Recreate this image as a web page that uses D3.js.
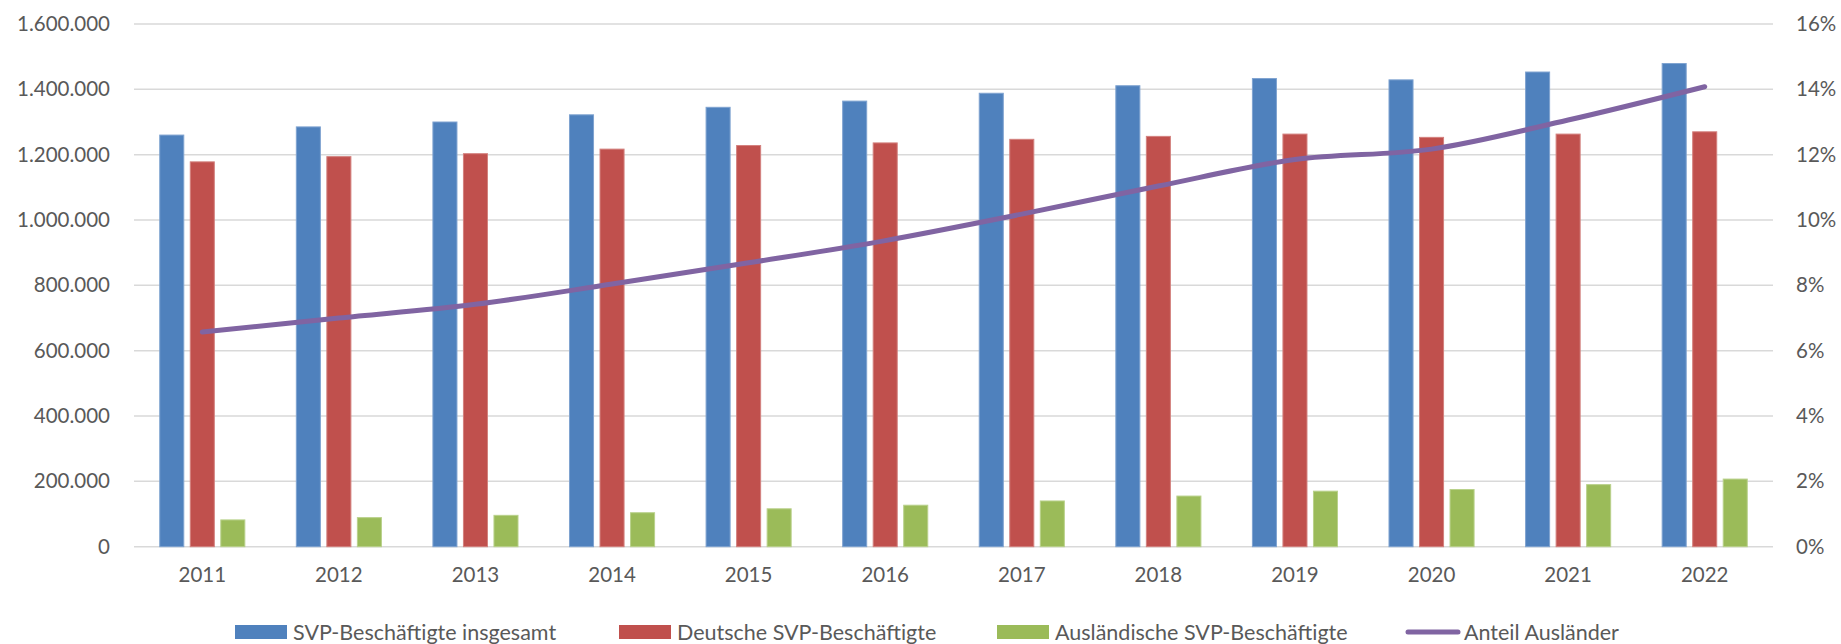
<!DOCTYPE html>
<html><head><meta charset="utf-8">
<script src="https://cdn.jsdelivr.net/npm/d3@7"></script>
<style>
html,body{margin:0;padding:0;background:#fff;}
svg text{font-family:Lato,"Open Sans",sans-serif;fill:#595959;}
</style></head>
<body><svg id="chart" width="1841" height="644"></svg>
<script>
const years = ["2011","2012","2013","2014","2015","2016","2017","2018","2019","2020","2021","2022"];
const total = [1260000,1285000,1300000,1322000,1345000,1364000,1388000,1411000,1433000,1429000,1453000,1479000];
const deutsche = [1178000,1194000,1203000,1217000,1228000,1236000,1247000,1256000,1263000,1253000,1263000,1270000];
const auslaender = [82000,89000,96000,104000,116000,127000,140000,155000,170000,175000,190000,207000];
const anteil = [6.57,7.0,7.42,8.04,8.69,9.37,10.18,11.04,11.85,12.17,13.06,14.08];
const leftTicks = [0,200000,400000,600000,800000,1000000,1200000,1400000,1600000];
const rightTicks = [0,2,4,6,8,10,12,14,16];
const seriesNames = ["SVP-Beschäftigte insgesamt","Deutsche SVP-Beschäftigte","Ausländische SVP-Beschäftigte","Anteil Ausländer"];
const colors = ["#4F81BD","#C0504D","#9BBB59","#8064A2"];
const strokes = ["#7fa3d0","#d3817e","#b9d18b"];

const svg = d3.select("#chart");
const L = 134, R = 1773, T = 24, B = 546.7;

const x = d3.scaleBand().domain(years).range([L, R]).padding(0);
const y = d3.scaleLinear().domain([0,1600000]).range([B, T]);
const y2 = d3.scaleLinear().domain([0,16]).range([B, T]);

const fmt = v => d3.format(",")(v).replace(/,/g, ".");

// gridlines
svg.append("g").selectAll("line").data(leftTicks).join("line")
  .attr("x1", L).attr("x2", R)
  .attr("y1", d => y(d)).attr("y2", d => y(d))
  .attr("stroke", "#d9d9d9").attr("stroke-width", 1.5);

// left axis labels
const yAxis = d3.axisLeft(y).tickValues(leftTicks).tickFormat(fmt).tickSize(0).tickPadding(0);
const gL = svg.append("g").attr("transform", `translate(${L-24},0)`).call(yAxis);
gL.select(".domain").remove();
gL.selectAll("text").attr("font-size", 20.5).attr("fill", "#595959").attr("font-family", "Lato");

// right axis labels
const yAxis2 = d3.axisRight(y2).tickValues(rightTicks).tickFormat(d => d + "%").tickSize(0).tickPadding(0);
const gR = svg.append("g").attr("transform", `translate(${R+23},0)`).call(yAxis2);
gR.select(".domain").remove();
gR.selectAll("text").attr("font-size", 20.5).attr("fill", "#595959").attr("font-family", "Lato");

// x axis labels
const xAxis = d3.axisBottom(x).tickSize(0).tickPadding(0);
const gX = svg.append("g").attr("transform", `translate(0,${B+21})`).call(xAxis);
gX.select(".domain").remove();
gX.selectAll("text").attr("font-size", 20.5).attr("fill", "#595959").attr("font-family", "Lato");

// bars
const bw = x.bandwidth();
const barW = bw * 0.176, step = bw * 0.2235;
const series = [total, deutsche, auslaender];
series.forEach((vals, si) => {
  svg.append("g").selectAll("rect").data(vals).join("rect")
    .attr("x", (d, i) => x(years[i]) + bw/2 + (si-1)*step - barW/2)
    .attr("y", d => y(d))
    .attr("width", barW)
    .attr("height", d => y(0) - y(d))
    .attr("fill", colors[si])
    .attr("stroke", strokes[si]).attr("stroke-width", 1);
});

// line
const line = d3.line()
  .x((d, i) => x(years[i]) + bw/2)
  .y(d => y2(d))
  .curve(d3.curveCatmullRom.alpha(0));
svg.append("path").datum(anteil).attr("d", line)
  .attr("fill", "none").attr("stroke", colors[3]).attr("stroke-width", 5)
  .attr("stroke-linecap", "round");

// legend
const legY = 632;
const legItems = [
  {x: 235, type: "rect"},
  {x: 619, type: "rect"},
  {x: 997, type: "rect"},
  {x: 1406, type: "line"}
];
const lg = svg.append("g");
legItems.forEach((it, i) => {
  if (it.type === "rect") {
    lg.append("rect").attr("x", it.x).attr("y", legY - 7).attr("width", 52).attr("height", 14).attr("fill", colors[i]);
  } else {
    lg.append("line").attr("x1", it.x + 2).attr("x2", it.x + 52).attr("y1", legY).attr("y2", legY)
      .attr("stroke", colors[i]).attr("stroke-width", 5).attr("stroke-linecap", "round");
  }
  lg.append("text").attr("x", it.x + 58).attr("y", legY).attr("dy", "0.35em")
    .attr("font-size", 21.5).text(seriesNames[i]);
});
</script></body></html>
